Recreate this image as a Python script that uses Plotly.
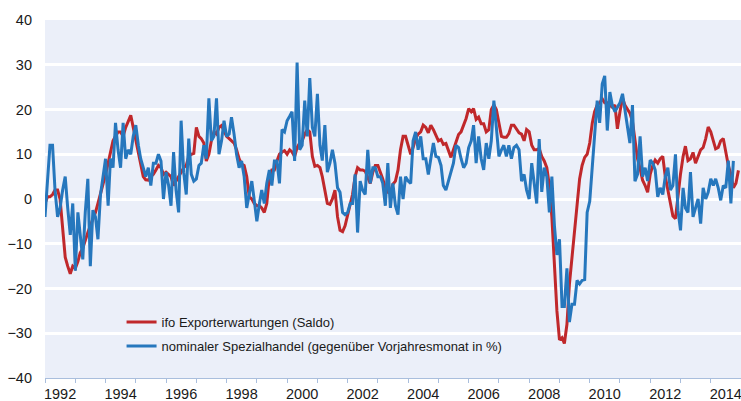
import pandas as pd
import plotly.graph_objects as go

# ---- data (monthly, from Jan 1992) ----
start_month = "1992-01-01"

ifo_name = "ifo Exporterwartungen (Saldo)"
trade_name = "nominaler Spezialhandel (gegenüber Vorjahresmonat in %)"

ifo_export_expectations = [
    -1, 0.5, 0.5, 1, 2, 2, 0, -6, -13, -15, -16.7, -15,              # 1992
    -15.5, -14, -12, -11, -9, -7.5, -6, -4.5, -3, -1, 1, 3,           # 1993
    5.5, 8, 10.5, 13, 14, 15, 15, 14, 16, 17.5, 18.7, 16,             # 1994
    13, 10.5, 7.5, 5, 4.3, 4.2, 5, 5.5, 6.5, 7.5, 7, 5.5,             # 1995
    6, 5.5, 5, 3, 4, 5, 6, 7, 7.5, 9.5, 10, 10.2,                     # 1996
    16, 14, 13.5, 12.5, 8.5, 10, 13, 15, 14.5, 16, 16.4, 15,          # 1997
    14, 13.5, 13, 12.5, 11, 9, 7.8, 7.5, 5, 0.5, 0, -1,               # 1998
    -1.5, -1.5, -2, -3, -1, 5, 6.5, 6.5, 8.5, 10, 10.5, 10.8,         # 1999
    10, 11, 10.5, 9.5, 11.5, 12.5, 13, 14.5, 15.5, 15, 9.5, 7.3,      # 2000
    7.5, 7, 5, 2, -1, -1.2, 0, 2, -4, -7, -7.3, -6,                   # 2001
    -3.5, -1.5, 1, 5, 7, 6.5, 6.5, 6.2, 5, 3.5, 6, 7.5,               # 2002
    7.5, 6, 4.5, 2.5, 1.5, 1.3, 3.3, 4, 6.5, 11, 14, 14,              # 2003
    12, 10, 11.5, 13.5, 14.5, 15, 16.5, 16, 14.8, 16.5, 15.5, 14.3,   # 2004
    13, 13.3, 12.2, 12.4, 10.8, 9.3, 11, 12.5, 14.4, 15, 16.5, 18,    # 2005
    20.2, 19.5, 20.2, 17.8, 18.3, 16.8, 16.8, 15, 15.5, 20, 21, 20,   # 2006
    17, 14, 13.8, 13.8, 14.6, 16.5, 16.5, 15.5, 14.8, 14.5, 13, 15.5, # 2007
    15, 12, 11, 11, 11.3, 9.5, 8.5, 7, 3, -4, -14, -25,               # 2008
    -31.5, -31, -32.3, -28, -19, -13, -6.5, 0, 4.5, 7.5, 9.3, 10,     # 2009
    12.5, 17, 19.5, 21, 21.5, 22.4, 21.5, 21.5, 21, 20.5, 21, 15.7,   # 2010
    19.5, 22.5, 21, 20, 19.2, 17.3, 12.5, 9, 6.8, 4.2, 3, 1.5,        # 2011
    5.5, 7.5, 8.7, 8, 9, 9.5, 5, 2, -1.5, -3.8, -4.4, 1,              # 2012
    5.6, 9.5, 11.8, 8.6, 9, 10.4, 8, 9.5, 11, 11.5, 13.5, 16.1,       # 2013
    15, 13, 11.2, 11.5, 13, 13.5, 10.5, 7.5, 5.5, 2.5, 3.5, 6.4,      # 2014
]

nominal_trade_growth = [
    -4, 5, 12, 12, 2, -4, -2, 2, 5, -2, -8, -1,                       # 1992
    -16, -3, -8, -13.5, -3, 4.5, -15, -2.5, -4, -9, 1, 5,             # 1993
    9, -1.5, 9, 7, 17, 11, 7, 17, 9, 11, 10, 14,                      # 1994
    16.5, 12, 9, 7, 5, 7, 3, 8, 8, 10, 8.5, 0,                        # 1995
    6, 3, -1.5, 10.5, 2, -3, 17.5, 6, 1, 13.5, 5.5, 4,                # 1996
    4.5, 7.5, 8, 12, 9, 22.5, 13, 14, 22.5, 10, 13, 17.5,             # 1997
    14, 14.5, 18.3, 14.5, 10, 7, 8.5, 5, -2, 1, 4, -0.3,              # 1998
    -5, -1, 2, -1, 3.5, 6.5, 3, 8.5, 8.5, 3.5, 15.5, 15,              # 1999
    17.5, 18.5, 19.5, 8.5, 30.5, 11, 12, 22, 14, 27, 16, 14,          # 2000
    23.5, 12, 8.6, 16.5, 6, 8, 11, 8, 2.5, 1.5, -3, -3.5,             # 2001
    -3, -1, -1, 5.5, -7.5, 4, 2, 1, 11, 3.5, 7, 7,                    # 2002
    5, 5, 3.5, -1.5, 8, -2, 3.5, -1.5, -3.5, 5, 0, 5,                 # 2003
    4, 3.5, 13, 15, 11, 14, 9, 9, 5.5, 9, 12.5, 9.5,                  # 2004
    9.3, 7.5, 3, 2, 4, 6, 8, 12, 11.5, 9, 7, 8,                       # 2005
    11.5, 13, 16.5, 8, 14, 9, 6.5, 12.5, 9, 13, 22, 16,               # 2006
    9.5, 11, 12, 9.5, 12, 9, 11.5, 12, 11, 4, 5.5, 2,                 # 2007
    0, 8, 3, -1, 13.4, 1.6, 7, 5, -3, 5, -6, -12.5,                   # 2008
    -9, -24, -24, -15.5, -27.5, -23.5, -23.5, -18.2, -19, -18.2, -18, -3,  # 2009
    -0.5, 7.9, 14, 22, 17, 25.7, 27.5, 15.3, 23.9, 20.9, 19.5, 20.5,  # 2010
    21.5, 23.5, 20, 16, 12.5, 21, 4, 5.5, 14, 5, 7, 4,                # 2011
    8.7, 8, 6.5, 0.5, 2.5, 1, 5, 7, 2, 3, 10, -2.5,                   # 2012
    -7, 2.5, -2, -3, 6, -4, -2, 0, -5.5, 2.5, 0, 1.5,                 # 2013
    4.5, 3, 4.5, 2.5, -0.3, 3, 2.5, 8.6, -1, 8.5,                     # 2014
]

year_labels = [str(y) for y in range(1992, 2015, 2)]
y_ticks = [-40, -30, -20, -10, 0, 10, 20, 30, 40]

# ---- figure ----
ifo_dates = pd.date_range(start_month, periods=len(ifo_export_expectations), freq="MS")
trade_dates = pd.date_range(start_month, periods=len(nominal_trade_growth), freq="MS")

RED = "#C0282B"
BLUE = "#2677BD"
FONT = "Liberation Sans, Arial, sans-serif"

fig = go.Figure()
fig.add_trace(go.Scatter(
    x=ifo_dates, y=ifo_export_expectations, name=ifo_name, mode="lines",
    line=dict(color=RED, width=3), legendgroup="a",
))
fig.add_trace(go.Scatter(
    x=trade_dates, y=nominal_trade_growth, name=trade_name, mode="lines",
    line=dict(color=BLUE, width=3), legendgroup="b",
))

fig.update_layout(
    width=741, height=401,
    margin=dict(l=45, r=0, t=20, b=23, autoexpand=False),
    paper_bgcolor="white",
    plot_bgcolor="#EBEFF9",
    font=dict(family=FONT, size=14, color="#1a1a1a"),
    showlegend=True,
    legend=dict(
        x=0.11, y=0.198, xanchor="left", yanchor="top",
        bgcolor="rgba(0,0,0,0)", borderwidth=0,
        font=dict(family=FONT, size=13, color="#1a1a1a"),
        tracegroupgap=4,
        traceorder="grouped",
    ),
    xaxis=dict(
        type="date",
        range=["1992-01-01", "2015-01-01"],
        tickvals=[f"{y}-07-01" for y in year_labels],
        ticktext=year_labels,
        ticks="", ticklen=0,
        showgrid=False, zeroline=False,
        showline=True, linecolor="#A9BEDD", linewidth=1,
        minor=dict(ticks="outside", ticklen=4, tickcolor="#A9BEDD",
                   dtick="M12", tick0="1992-01-01", showgrid=False),
        tickfont=dict(size=14.5),
        ticklabelstandoff=3,
        ticklabeloverflow="allow",
        automargin=False,
    ),
    yaxis=dict(
        range=[-40, 40],
        tickvals=y_ticks,
        ticks="",
        showgrid=True, gridcolor="white", gridwidth=2.5,
        zeroline=False, showline=False,
        tickfont=dict(size=14.5),
        ticklabelstandoff=12,
        automargin=False,
    ),
)

fig.write_html(
    "out.html",
    config={"displayModeBar": False},
    post_script="document.body.style.margin='0';document.body.style.overflow='hidden';",
)
